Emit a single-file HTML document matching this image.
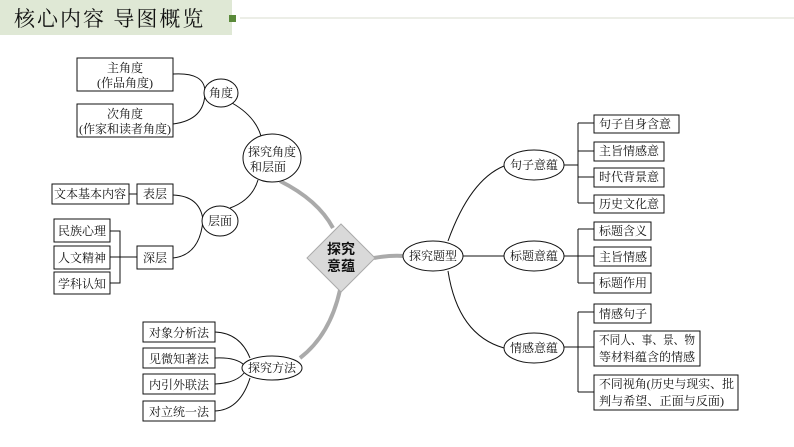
<!DOCTYPE html>
<html><head><meta charset="utf-8"><style>
html,body{margin:0;padding:0;background:#fff;width:794px;height:447px;overflow:hidden}
svg text{font-family:"Liberation Serif","Noto Serif CJK SC",serif;font-size:12px;fill:#111}
</style></head><body>
<svg width="794" height="447" viewBox="0 0 794 447" xmlns="http://www.w3.org/2000/svg">
<rect x="0" y="0" width="232" height="35" fill="#dfe8d5"/>
<text x="14" y="26" style="font-size:21px;font-family:'Noto Serif CJK SC',serif;letter-spacing:2px">核心内容 导图概览</text>
<rect x="229" y="15" width="7" height="7" fill="#5a8a3a"/>
<line x1="240" y1="18" x2="794" y2="18" stroke="#d8dccf" stroke-width="1"/>

<g fill="none" stroke="#aaa" stroke-width="4">
<path d="M280,181 Q318,200 333,228"/>
<path d="M340,290 Q330,335 300,358"/>
<path d="M374,258 Q390,255 404,256"/>
</g>
<g fill="none" stroke="#111" stroke-width="1">
<path d="M173,74 Q205,72 205,92 Q205,120 173,124"/>
<path d="M232,103 Q255,116 261,136"/>
<path d="M173,195 Q200,196 203,220 Q200,255 173,258"/>
<path d="M230,208 Q252,200 258,180"/>
<line x1="129" y1="194" x2="137" y2="194"/>
<path d="M110,231 H120 V283 H110 M110,257 H137"/>
<path d="M215,332 Q240,333 250,358 M215,358 Q236,357 244,365 M215,384 Q236,383 244,373 M215,411 Q240,410 250,378"/>
<path d="M448,241 Q470,180 504,166"/>
<line x1="463" y1="256" x2="504" y2="256"/>
<path d="M448,271 Q458,335 504,348"/>
<path d="M564,165 H578 M578,123 V203 M578,123 H594 M578,151 H594 M578,177 H594 M578,203 H594"/>
<path d="M564,256 H594 M578,229 V283 M578,229 H594 M578,283 H594"/>
<path d="M564,347 H594 M578,312 V392 M578,312 H594 M578,392 H594"/>
</g>
<g fill="#fff" stroke="#111" stroke-width="1">
<rect x="77" y="58" width="96" height="33"/>
<rect x="77" y="104" width="96" height="33"/>
<ellipse cx="221" cy="93" rx="17" ry="14"/>
<ellipse cx="272" cy="158" rx="29" ry="24"/>
<rect x="52" y="184" width="77" height="20"/>
<rect x="137" y="184" width="36" height="20"/>
<ellipse cx="220" cy="221" rx="18" ry="15"/>
<rect x="54" y="219" width="56" height="23"/>
<rect x="54" y="246" width="56" height="23"/>
<rect x="54" y="272" width="56" height="22"/>
<rect x="137" y="246" width="36" height="23"/>
<ellipse cx="272" cy="368" rx="30" ry="12"/>
<rect x="143" y="322" width="72" height="20"/>
<rect x="143" y="348" width="72" height="20"/>
<rect x="143" y="374" width="72" height="20"/>
<rect x="143" y="401" width="72" height="20"/>
<ellipse cx="433" cy="256" rx="30" ry="15"/>
<ellipse cx="534" cy="165" rx="30" ry="15"/>
<ellipse cx="534" cy="256" rx="30" ry="15"/>
<ellipse cx="534" cy="348" rx="30" ry="15"/>
<rect x="594" y="115" width="85" height="18"/>
<rect x="594" y="142" width="70" height="19"/>
<rect x="594" y="168" width="70" height="19"/>
<rect x="594" y="195" width="70" height="18"/>
<rect x="594" y="222" width="57" height="18"/>
<rect x="594" y="247" width="57" height="19"/>
<rect x="594" y="273" width="57" height="20"/>
<rect x="594" y="304" width="57" height="19"/>
<rect x="594" y="331" width="106" height="35"/>
<rect x="594" y="375" width="144" height="35"/>
</g>
<polygon points="341,224 375,258 341,292 307,258" fill="#d9d9d9" stroke="#aaa"/>
<text x="341" y="254" text-anchor="middle" style="font-size:14px;font-weight:bold;font-family:'Noto Sans CJK SC',sans-serif">探究</text>
<text x="341" y="271" text-anchor="middle" style="font-size:14px;font-weight:bold;font-family:'Noto Sans CJK SC',sans-serif">意蕴</text>
<g text-anchor="middle">
<text x="125" y="72">主角度</text><text x="125" y="87">(作品角度)</text>
<text x="125" y="118">次角度</text><text x="125" y="133">(作家和读者角度)</text>
<text x="221" y="97">角度</text>
<text x="272" y="156">探究角度</text><text x="268" y="171">和层面</text>
<text x="90" y="198">文本基本内容</text>
<text x="155" y="198">表层</text>
<text x="220" y="225">层面</text>
<text x="82" y="235">民族心理</text>
<text x="82" y="262">人文精神</text>
<text x="82" y="288">学科认知</text>
<text x="155" y="262">深层</text>
<text x="272" y="372">探究方法</text>
<text x="179" y="337">对象分析法</text>
<text x="179" y="363">见微知著法</text>
<text x="179" y="389">内引外联法</text>
<text x="179" y="416">对立统一法</text>
<text x="433" y="260">探究题型</text>
<text x="534" y="169">句子意蕴</text>
<text x="534" y="260">标题意蕴</text>
<text x="534" y="352">情感意蕴</text>
</g>
<g>
<text x="599" y="128">句子自身含意</text>
<text x="599" y="155">主旨情感意</text>
<text x="599" y="181">时代背景意</text>
<text x="599" y="208">历史文化意</text>
<text x="599" y="235">标题含义</text>
<text x="599" y="261">主旨情感</text>
<text x="599" y="287">标题作用</text>
<text x="599" y="318">情感句子</text>
<text x="599" y="344" textLength="96" lengthAdjust="spacingAndGlyphs">不同人、事、景、物</text>
<text x="599" y="361" textLength="96" lengthAdjust="spacingAndGlyphs">等材料蕴含的情感</text>
<text x="599" y="388" textLength="135" lengthAdjust="spacingAndGlyphs">不同视角(历史与现实、批</text>
<text x="599" y="405" textLength="125" lengthAdjust="spacingAndGlyphs">判与希望、正面与反面)</text>
</g>
</svg>
</body></html>
